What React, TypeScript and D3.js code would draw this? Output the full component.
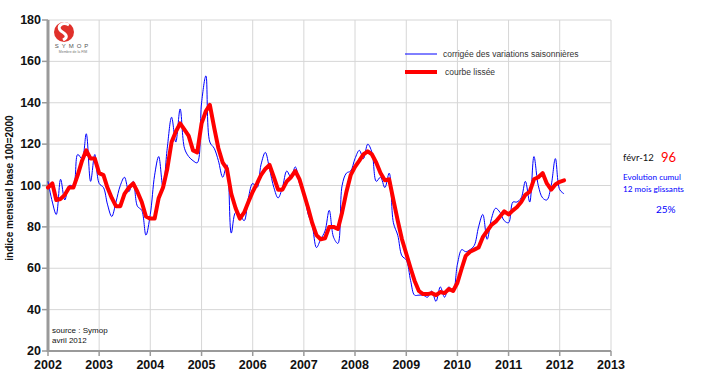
import React from "react";
import * as d3 from "d3";

const width = 703;
const height = 372;

// indice corrigé des variations saisonnières, mensuel, janv 2002 -> févr 2012
const cvs2002 = [102, 92, 86, 103, 93, 100, 100, 115, 113, 125, 102, 115];
const cvs2003 = [101, 99, 91, 85, 92, 100, 104, 97, 102, 90, 88, 76];
const cvs2004 = [86, 105, 114, 99, 118, 133, 121, 137, 118, 114, 112, 111];
const cvs2005 = [140, 153, 121, 118, 112, 104, 110, 77, 87, 86, 83, 94];
const cvs2006 = [101, 99, 110, 116, 108, 99, 94, 99, 107, 104, 109, 101];
const cvs2007 = [96, 86, 81, 70, 74, 78, 88, 75, 72, 100, 106, 107];
const cvs2008 = [113, 117, 113, 120, 116, 102, 104, 99, 106, 82, 76, 66];
const cvs2009 = [64, 54, 47, 47, 47, 46, 49, 44, 51, 46, 51, 49];
const cvs2010 = [62, 69, 68, 69, 71, 80, 86, 74, 84, 89, 87, 83];
const cvs2011 = [82, 92, 92, 94, 102, 92, 114, 100, 94, 93, 100, 113];
const cvs2012 = [98, 96];

// courbe lissée
const lisse2002 = [99, 101, 93, 93.5, 95.5, 99, 99, 105, 112, 117, 113, 113];
const lisse2003 = [106, 105, 99, 94, 90, 90, 96, 99, 101, 97, 92, 85];
const lisse2004 = [84, 84, 94, 99, 108, 121, 126, 130, 127, 124, 117, 116];
const lisse2005 = [130, 136, 139, 128, 118, 111, 108, 96, 89, 84, 87, 92];
const lisse2006 = [97, 101, 105, 108, 110, 104, 98, 98, 102, 104, 107, 103];
const lisse2007 = [96, 89, 82, 76, 74, 74.5, 80, 80, 79, 87, 97, 105];
const lisse2008 = [109, 112, 115, 116.5, 115, 111, 106, 102.5, 103, 93, 83, 74];
const lisse2009 = [67, 60, 54, 49, 47.5, 47.5, 48, 47, 48.5, 48, 50, 49];
const lisse2010 = [53, 60, 66, 68, 69, 70, 75, 78, 81, 82.5, 85, 87.5];
const lisse2011 = [86, 88, 89.5, 92, 95.5, 97, 103, 104, 106, 101, 98, 100.5];
const lisse2012 = [101.8, 102.5];

const years = [2002, 2003, 2004, 2005, 2006, 2007, 2008, 2009, 2010, 2011, 2012, 2013];
const yTicks = [20, 40, 60, 80, 100, 120, 140, 160, 180];

const cvs = [
  ...cvs2002, ...cvs2003, ...cvs2004, ...cvs2005, ...cvs2006, ...cvs2007,
  ...cvs2008, ...cvs2009, ...cvs2010, ...cvs2011, ...cvs2012,
];
const lisse = [
  ...lisse2002, ...lisse2003, ...lisse2004, ...lisse2005, ...lisse2006, ...lisse2007,
  ...lisse2008, ...lisse2009, ...lisse2010, ...lisse2011, ...lisse2012,
];

const x = d3
  .scaleTime()
  .domain([new Date(2002, 0, 1), new Date(2013, 0, 1)])
  .range([48, 611]);
const y = d3.scaleLinear().domain([20, 180]).range([351, 20]);

const monthDate = (i: number) => new Date(2002, i, 1);

const blueLine = d3
  .line<number>()
  .x((d, i) => x(monthDate(i)))
  .y((d) => y(d))
  .curve(d3.curveCatmullRom.alpha(0.5));

const redLine = d3
  .line<number>()
  .x((d, i) => x(monthDate(i)))
  .y((d) => y(d));

const font = "'Liberation Sans', Arial, sans-serif";

export default function App() {
  const x0 = x.range()[0];
  const x1 = x.range()[1];
  return (
    <svg
      width={width}
      height={height}
      style={{ position: "absolute", left: 0, top: 0, background: "#fff" }}
      fontFamily={font}
    >
      {/* grille */}
      {yTicks.map((t) => (
        <line key={"h" + t} x1={x0} x2={x1} y1={y(t)} y2={y(t)} stroke="#d6d6d6" strokeWidth={1} />
      ))}
      {years.map((yr) => (
        <line
          key={"v" + yr}
          x1={x(new Date(yr, 0, 1))}
          x2={x(new Date(yr, 0, 1))}
          y1={y(180)}
          y2={y(20)}
          stroke="#d6d6d6"
          strokeWidth={1}
        />
      ))}

      {/* axes */}
      <line x1={x0} x2={x0} y1={y(180)} y2={y(20) + 1} stroke="#9a9a9a" strokeWidth={3} />
      <line x1={x0} x2={x1} y1={y(20)} y2={y(20)} stroke="#9a9a9a" strokeWidth={2} />
      {yTicks.map((t) => (
        <g key={"yt" + t}>
          <line x1={x0 - 6} x2={x0} y1={y(t)} y2={y(t)} stroke="#9a9a9a" strokeWidth={1.5} />
          <text x={41} y={y(t) + 4} textAnchor="end" fontSize={12.5} fontWeight="bold" fill="#111">
            {t}
          </text>
        </g>
      ))}
      {years.map((yr) => (
        <g key={"xt" + yr}>
          <line
            x1={x(new Date(yr, 0, 1))}
            x2={x(new Date(yr, 0, 1))}
            y1={y(20)}
            y2={y(20) + 5}
            stroke="#9a9a9a"
            strokeWidth={1.5}
          />
          <text
            x={x(new Date(yr, 0, 1))}
            y={369}
            textAnchor="middle"
            fontSize={12.5}
            fontWeight="bold"
            fill="#111"
          >
            {yr}
          </text>
        </g>
      ))}
      <text
        transform={`translate(13, 188) rotate(-90)`}
        textAnchor="middle"
        fontSize={10}
        fontWeight="bold"
        fill="#111"
      >
        indice mensuel base 100=2000
      </text>

      {/* séries */}
      <path d={blueLine(cvs) ?? ""} fill="none" stroke="#0000ff" strokeWidth={1} />
      <path
        d={redLine(lisse) ?? ""}
        fill="none"
        stroke="#ff0000"
        strokeWidth={4}
        strokeLinejoin="round"
        strokeLinecap="round"
      />

      {/* logo */}
      <g>
        <circle cx={64} cy={32} r={10} fill="#e0302a" />
        <path
          d="M69,25 C62,21 56,27 61,31 C66,34 69,37 63,40"
          fill="none"
          stroke="#fff"
          strokeWidth={3}
        />
        <text x={73} y={48} textAnchor="middle" fontSize={6} letterSpacing={3} fill="#555">
          SYMOP
        </text>
        <text x={73} y={53} textAnchor="middle" fontSize={3.5} fill="#777">
          Membre de la FIM
        </text>
      </g>

      {/* légende */}
      <line x1={405} x2={437} y1={54} y2={54} stroke="#0000ff" strokeWidth={1} />
      <text x={443} y={56.5} fontSize={8.5} fill="#333">
        corrigée des variations saisonnières
      </text>
      <line x1={405} x2={437} y1={72} y2={72} stroke="#ff0000" strokeWidth={4} />
      <text x={445} y={74.5} fontSize={8.5} fill="#333">
        courbe lissée
      </text>

      {/* source */}
      <text x={52} y={333} fontSize={8} fill="#111">
        source :  Symop
      </text>
      <text x={52} y={343} fontSize={8} fill="#111">
        avril 2012
      </text>

      {/* encadré droit */}
      <g fontFamily="Lato, 'Open Sans', sans-serif">
        <text x={623} y={161} fontSize={9.5} fill="#111">
          févr-12
        </text>
        <text x={661} y={162} fontSize={13} fill="#ff0000">
          96
        </text>
        <text x={623} y={180} fontSize={8.2} fill="#0000ff">
          Evolution cumul
        </text>
        <text x={623} y={192} fontSize={8.2} fill="#0000ff">
          12 mois glissants
        </text>
        <text x={656} y={213} fontSize={10} fill="#0000ff">
          25%
        </text>
      </g>
    </svg>
  );
}
